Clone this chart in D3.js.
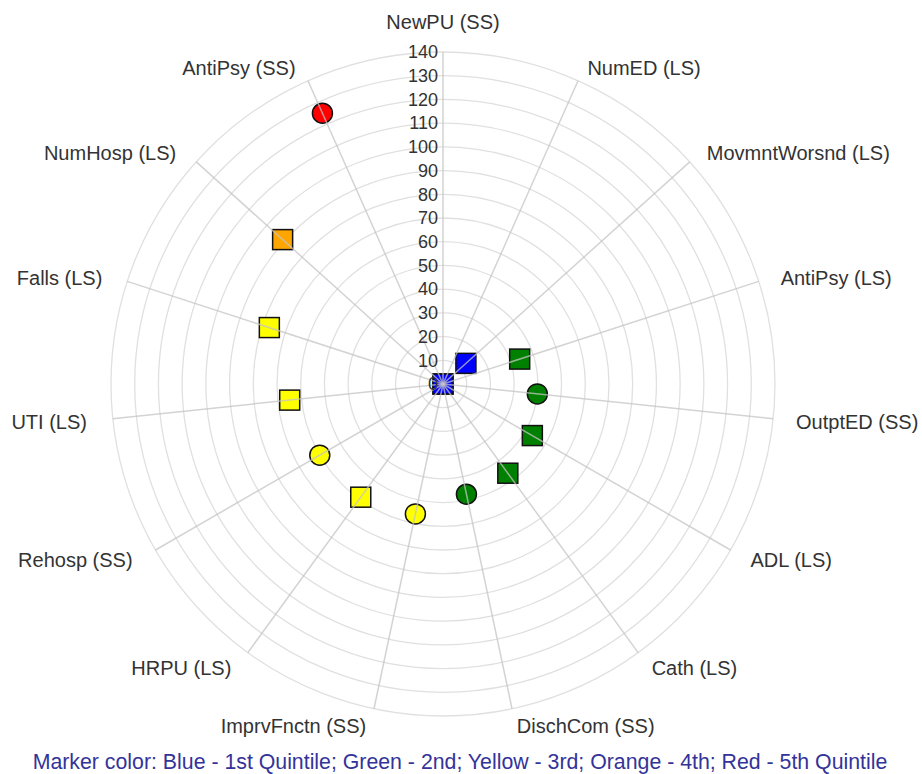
<!DOCTYPE html>
<html>
<head>
<meta charset="utf-8">
<script src="https://cdn.jsdelivr.net/npm/d3@7"></script>
<style>
  body { margin: 0; background: #fff; }
  text { font-family: Arial, "Liberation Sans", sans-serif; }
</style>
</head>
<body>
<svg id="chart" width="922" height="774"></svg>
<script>
// axis names, clockwise from the top
const axes = ["NewPU (SS)", "NumED (LS)", "MovmntWorsnd (LS)", "AntiPsy (LS)", "OutptED (SS)",
  "ADL (LS)", "Cath (LS)", "DischCom (SS)", "ImprvFnctn (SS)", "HRPU (LS)", "Rehosp (SS)",
  "UTI (LS)", "Falls (LS)", "NumHosp (LS)", "AntiPsy (SS)"];
const values = [0, 0, 13, 34, 40, 43.5, 46.5, 47.5, 56, 59, 60, 65, 77, 91, 125];
const quintile = [1, 1, 1, 2, 2, 2, 2, 2, 3, 3, 3, 3, 3, 4, 5];
const shapes = ["square", "square", "square", "square", "circle", "square", "square", "circle",
  "circle", "square", "circle", "square", "square", "square", "circle"];
const ticks = d3.range(0, 141, 10);
const quintileColors = ["#0000ff", "#008000", "#ffff00", "#ffa500", "#ff0000"];

const svg = d3.select("#chart");
const cx = 443, cy = 384;

const r = d3.scaleLinear().domain([0, 140]).range([0, 332]);
const step = 2 * Math.PI / axes.length;
const ang = d => axes.indexOf(d) * step;

const g = svg.append("g").attr("transform", `translate(${cx},${cy})`);

// rings
g.selectAll("circle.ring")
  .data(ticks.slice(1))
  .join("circle")
  .attr("class", "ring")
  .attr("r", d => r(d))
  .attr("fill", "none")
  .attr("stroke", "#e0e0e0")
  .attr("stroke-width", 1.3);

// markers
const pts = axes.map((a, i) => ({
  name: a, value: values[i], shape: shapes[i], color: quintileColors[quintile[i] - 1],
  x: Math.sin(ang(a)) * r(values[i]), y: -Math.cos(ang(a)) * r(values[i])
}));

const mk = g.selectAll("g.pt").data(pts).join("g")
  .attr("class", "pt")
  .attr("transform", d => `translate(${d.x},${d.y})`);

mk.filter(d => d.shape === "square").append("rect")
  .attr("x", -10).attr("y", -10).attr("width", 20).attr("height", 20)
  .attr("fill", d => d.color).attr("stroke", "#111").attr("stroke-width", 1.5);
mk.filter(d => d.shape === "circle").append("circle")
  .attr("r", 10)
  .attr("fill", d => d.color).attr("stroke", "#111").attr("stroke-width", 1.5);

// spokes, drawn over the markers
g.selectAll("line.spoke")
  .data(axes)
  .join("line")
  .attr("class", "spoke")
  .attr("x1", 0).attr("y1", 0)
  .attr("x2", d => Math.sin(ang(d)) * r(140))
  .attr("y2", d => -Math.cos(ang(d)) * r(140))
  .attr("stroke", "#c4c4c4")
  .attr("stroke-opacity", 0.75)
  .attr("stroke-width", 1.5);

// tick labels along the top spoke
g.selectAll("text.tick")
  .data(ticks)
  .join("text")
  .attr("class", "tick")
  .attr("x", -5)
  .attr("y", d => -r(d))
  .attr("dy", "0.35em")
  .attr("text-anchor", "end")
  .attr("font-size", 18)
  .attr("fill", "#333")
  .text(d => d);

// axis labels
const labR = 355, labRy = 348;
g.selectAll("text.axis")
  .data(axes)
  .join("text")
  .attr("class", "axis")
  .attr("x", d => {
    const a = ang(d);
    return Math.sin(a) * labR + (a > Math.PI ? -3 : 0);
  })
  .attr("y", d => ang(d) === 0 ? -r(140) - 30 : -Math.cos(ang(d)) * labRy + 2)
  .attr("dy", "0.35em")
  .attr("text-anchor", d => {
    const a = ang(d);
    if (a === 0) return "middle";
    return a < Math.PI ? "start" : "end";
  })
  .attr("font-size", 20)
  .attr("fill", "#333")
  .text(d => d);

svg.append("text")
  .attr("x", 460).attr("y", 762)
  .attr("dy", "0.35em")
  .attr("text-anchor", "middle")
  .attr("font-size", 21.3)
  .attr("fill", "#333399")
  .text("Marker color: Blue - 1st Quintile; Green - 2nd; Yellow - 3rd; Orange - 4th; Red - 5th Quintile");
</script>
</body>
</html>
